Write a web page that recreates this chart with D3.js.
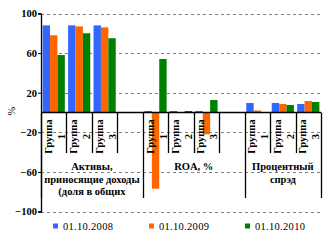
<!DOCTYPE html>
<html>
<head>
<meta charset="utf-8">
<script src="https://cdn.jsdelivr.net/npm/d3@7"></script>
<style>
  body { margin: 0; background: #fff; }
  text { font-family: "Liberation Serif", "Times New Roman", serif; }
</style>
</head>
<body>
<svg id="chart" width="326" height="243"></svg>
<script>
const groups = [
    ["Активы,", "приносящие доходы", "(доля в общих"],
    ["ROA, %"],
    ["Процентный", "спрэд"]
];
const subgroups = ["Группа 1", "Группа 2", "Группа 3"];
const seriesNames = ["01.10.2008", "01.10.2009", "01.10.2010"];
const colors = ["#3366ff", "#ff6600", "#008000"];

// values per series, in order: 3 groups x 3 subgroups
const s2008 = [88, 88, 88, 1.5, 1.5, 1.5, 9.6, 9.6, 8.6];
const s2009 = [78, 87, 86, -77, 0, -22, 2, 8.6, 11.6];
const s2010 = [58, 80, 75, 54, 1.5, 12.6, 0, 7.6, 10.6];
const yTicks = [-100, -60, -20, 20, 60, 100];

const svg = d3.select("#chart");
const plotLeft = 41, plotRight = 321, plotTop = 13.5, plotBottom = 211.5;

// build category slots: each group gets its subgroups, plus an empty slot between groups
const slots = [];
groups.forEach((g, gi) => {
    subgroups.forEach((s, si) => slots.push({ group: gi, label: s, idx: gi * 3 + si }));
    if (gi < groups.length - 1) slots.push({ group: gi, label: null, idx: null });
});

const x = d3.scaleBand()
    .domain(d3.range(slots.length))
    .range([plotLeft, plotRight]);

const xInner = d3.scaleBand()
    .domain(d3.range(seriesNames.length))
    .range([0, x.bandwidth()])
    .paddingOuter(0.22);

const y = d3.scaleLinear()
    .domain([-100, 100])
    .range([plotBottom, plotTop]);

// gridlines
svg.append("g")
    .selectAll("line")
    .data(yTicks)
    .enter()
    .append("line")
        .attr("x1", plotLeft)
        .attr("x2", plotRight + 1)
        .attr("y1", d => Math.round(y(d)) + 0.5)
        .attr("y2", d => Math.round(y(d)) + 0.5)
        .attr("stroke", "#808080")
        .attr("stroke-width", 1)
        .attr("stroke-dasharray", "3,3");

// bars
const allSeries = [s2008, s2009, s2010];
allSeries.forEach((vals, si) => {
    svg.append("g")
        .selectAll("rect")
        .data(slots.filter(d => d.idx !== null))
        .enter()
        .append("rect")
            .attr("x", d => x(slots.indexOf(d)) + xInner(si))
            .attr("width", xInner.bandwidth())
            .attr("y", d => y(Math.max(0, vals[d.idx])))
            .attr("height", d => Math.abs(y(vals[d.idx]) - y(0)))
            .attr("fill", colors[si]);
});

// y axis
const yAxis = svg.append("g")
    .attr("transform", `translate(${plotLeft},0)`)
    .call(d3.axisLeft(y).tickValues(yTicks).tickSize(3).tickFormat(d3.format("d")));
yAxis.select(".domain").attr("stroke", "#000").attr("stroke-width", 1.3);
yAxis.selectAll(".tick line").attr("stroke", "#000");
yAxis.selectAll(".tick text")
    .attr("x", -4)
    .style("font-family", "Liberation Serif")
    .style("font-size", "10.5px")
    .style("font-weight", "bold")
    .attr("fill", "#000");

svg.append("text")
    .attr("transform", "translate(15,111) rotate(-90)")
    .attr("text-anchor", "middle")
    .style("font-size", "10.5px")
    .text("%");

// zero axis line
svg.append("line")
    .attr("x1", plotLeft).attr("x2", plotRight)
    .attr("y1", y(0)).attr("y2", y(0))
    .attr("stroke", "#000").attr("stroke-width", 1.5);

// category separators
const boundaries = d3.range(slots.length + 1);
svg.append("g")
    .selectAll("line")
    .data(boundaries)
    .enter()
    .append("line")
        .attr("x1", i => Math.round(plotLeft + i * x.step()) + 0.5)
        .attr("x2", i => Math.round(plotLeft + i * x.step()) + 0.5)
        .attr("y1", y(0))
        .attr("y2", i => {
            const isGroupEdge = i === 0 || i === slots.length || (slots[i] && slots[i].group !== slots[i - 1].group);
            return isGroupEdge ? 198 : 153;
        })
        .attr("stroke", "#000")
        .attr("stroke-width", 1.3);

// subgroup labels (rotated)
const subLabels = svg.append("g")
    .selectAll("text")
    .data(slots.filter(d => d.label))
    .enter()
    .append("text")
        .attr("transform", d => `translate(${x(slots.indexOf(d)) + x.bandwidth() / 2 + 1},136.5) rotate(-90)`)
        .attr("text-anchor", "middle")
        .style("font-size", "10.5px")
        .style("font-weight", "bold");
subLabels.append("tspan")
    .attr("x", 0).attr("y", -3)
    .text(d => d.label.split(" ")[0]);
subLabels.append("tspan")
    .attr("x", 0).attr("y", 10)
    .text(d => d.label.split(" ")[1]);

// group labels
groups.forEach((lines, gi) => {
    const members = slots.map((s, i) => [s, i]).filter(p => p[0].group === gi);
    const x0 = plotLeft + members[0][1] * x.step();
    const x1 = plotLeft + (members[members.length - 1][1] + 1) * x.step();
    const t = svg.append("text")
        .attr("text-anchor", "middle")
        .style("font-size", "10.5px")
        .style("font-weight", "bold");
    lines.forEach((ln, li) => {
        t.append("tspan")
            .attr("x", (x0 + x1) / 2)
            .attr("y", 170 + li * 12.7)
            .text(ln);
    });
});

// legend
const legendX = [53, 149, 245];
const legend = svg.append("g")
    .selectAll("g")
    .data(seriesNames)
    .enter()
    .append("g")
        .attr("transform", (d, i) => `translate(${legendX[i]},223)`);
legend.append("rect")
    .attr("width", 5).attr("height", 5)
    .attr("y", 0.5)
    .attr("fill", (d, i) => colors[i]);
legend.append("text")
    .attr("x", 10)
    .attr("y", 6.5)
    .style("font-size", "10.5px")
    .style("letter-spacing", "0.3px")
    .text(d => d);
</script>
</body>
</html>
